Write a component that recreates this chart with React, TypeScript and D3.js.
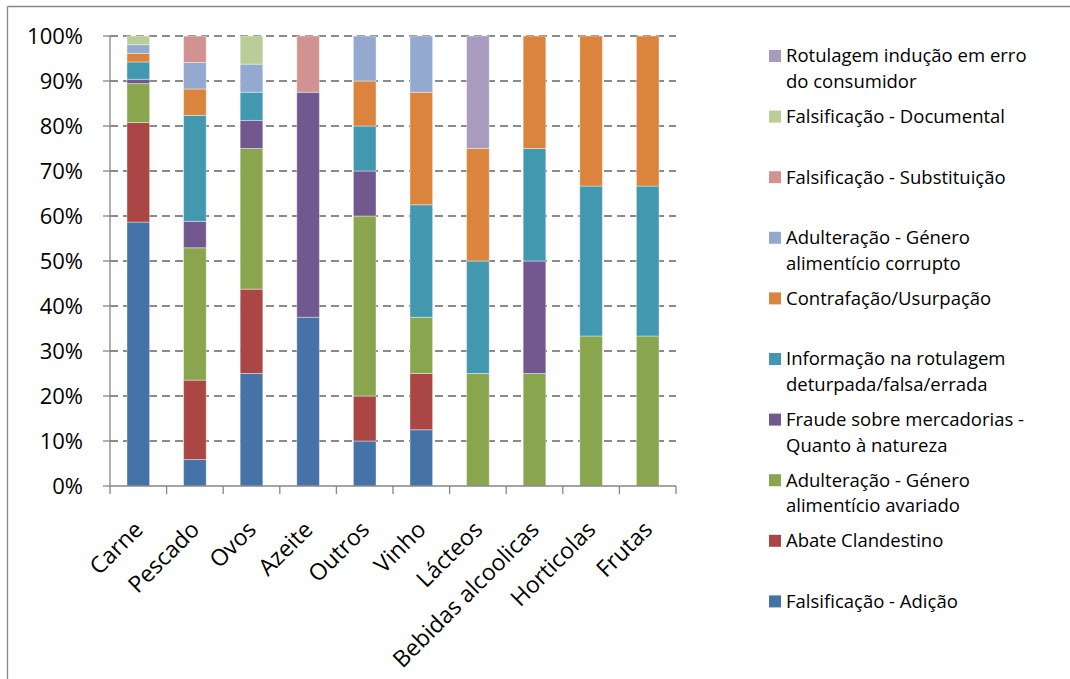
import React from "react";
import * as d3 from "d3";

const categories = ["Carne", "Pescado", "Ovos", "Azeite", "Outros", "Vinho", "Lácteos", "Bebidas alcoolicas", "Horticolas", "Frutas"];

const seriesNames = [
  "Falsificação - Adição",
  "Abate Clandestino",
  "Adulteração - Género alimentício avariado",
  "Fraude sobre mercadorias - Quanto à natureza",
  "Informação na rotulagem deturpada/falsa/errada",
  "Contrafação/Usurpação",
  "Adulteração - Género alimentício corrupto",
  "Falsificação - Substituição",
  "Falsificação - Documental",
  "Rotulagem indução em erro do consumidor",
];

const legendLines = [
  ["Falsificação - Adição"],
  ["Abate Clandestino"],
  ["Adulteração - Género", "alimentício avariado"],
  ["Fraude sobre mercadorias -", "Quanto à natureza"],
  ["Informação na rotulagem", "deturpada/falsa/errada"],
  ["Contrafação/Usurpação"],
  ["Adulteração - Género", "alimentício corrupto"],
  ["Falsificação - Substituição"],
  ["Falsificação - Documental"],
  ["Rotulagem indução em erro", "do consumidor"],
];

const colors = ["#4572A7", "#AA4643", "#89A54E", "#71588F", "#4198AF", "#DB843D", "#93A9CF", "#D19392", "#B9CD96", "#A99BBD"];

const adicao = [58.65, 5.88, 25, 37.5, 10, 12.5, 0, 0, 0, 0];
const abate = [22.12, 17.65, 18.75, 0, 10, 12.5, 0, 0, 0, 0];
const avariado = [8.65, 29.41, 31.25, 0, 40, 12.5, 25, 25, 33.33, 33.33];
const fraude = [0.96, 5.88, 6.25, 50, 10, 0, 0, 25, 0, 0];
const informacao = [3.85, 23.53, 6.25, 0, 10, 25, 25, 25, 33.33, 33.33];
const contrafacao = [1.92, 5.88, 0, 0, 10, 25, 25, 25, 33.34, 33.34];
const corrupto = [1.92, 5.88, 6.25, 0, 10, 12.5, 0, 0, 0, 0];
const substituicao = [0, 5.88, 0, 12.5, 0, 0, 0, 0, 0, 0];
const documental = [1.93, 0, 6.25, 0, 0, 0, 0, 0, 0, 0];
const rotulagem = [0, 0, 0, 0, 0, 0, 25, 0, 0, 0];

const seriesValues = [adicao, abate, avariado, fraude, informacao, contrafacao, corrupto, substituicao, documental, rotulagem];

const yTicks = [0, 10, 20, 30, 40, 50, 60, 70, 80, 90, 100];

const FONT = "'Open Sans', sans-serif";

export default function App() {
  const W = 1070, H = 679;
  const x0 = 110, x1 = 676, yTop = 36, yBot = 486;
  const x = d3.scaleBand<string>().domain(categories).range([x0, x1]).paddingInner(0.6).paddingOuter(0.3);
  const y = d3.scaleLinear().domain([0, 100]).range([yBot, yTop]);

  const table = categories.map((c, i) => {
    const row: any = { cat: c };
    seriesNames.forEach((s, j) => (row[s] = seriesValues[j][i]));
    return row;
  });
  const stacked = d3.stack<any>().keys(seriesNames)(table);

  const step = x.step();
  const boundaries = d3.range(categories.length + 1).map((i) => x0 + i * step);

  const legendX = 769;
  const legendY0 = 56;
  const legendStep = 60.6;

  return (
    <svg width={W} height={H} style={{ position: "absolute", left: 0, top: 0, background: "#fff" }} fontFamily={FONT}>
      <rect x={0} y={0} width={W} height={H} fill="#fff" />
      <line x1={7.5} x2={7.5} y1={6.5} y2={H} stroke="#868686" strokeWidth={1.3} />
      <line x1={7.5} x2={W} y1={6.5} y2={6.5} stroke="#868686" strokeWidth={1.3} />

      {yTicks.filter((t) => t > 0).map((t) => (
        <line key={t} x1={x0} x2={x1} y1={y(t)} y2={y(t)} stroke="#8a8a8a" strokeWidth={2} strokeDasharray="8,5" />
      ))}

      {stacked.map((s, j) => (
        <g key={s.key} fill={colors[j]}>
          {s.map((d, i) =>
            d[1] - d[0] > 0 ? (
              <rect
                key={i}
                x={x(categories[i])!}
                width={x.bandwidth()}
                y={y(d[1])}
                height={y(d[0]) - y(d[1])}
                stroke="#fff"
                strokeOpacity={0.4}
                strokeWidth={1}
              />
            ) : null
          )}
        </g>
      ))}

      <line x1={x0} x2={x0} y1={yTop} y2={yBot} stroke="#868686" strokeWidth={1.3} />
      <line x1={x0} x2={x1} y1={yBot} y2={yBot} stroke="#868686" strokeWidth={1.3} />
      {yTicks.map((t) => (
        <g key={t}>
          <line x1={x0 - 7} x2={x0} y1={y(t)} y2={y(t)} stroke="#868686" strokeWidth={1.3} />
          <text x={83} y={y(t)} dy="0.35em" textAnchor="end" fontSize={22} fill="#000">
            {t}%
          </text>
        </g>
      ))}
      {boundaries.map((b, i) => (
        <line key={i} x1={b} x2={b} y1={yBot} y2={yBot + 8} stroke="#868686" strokeWidth={1.3} />
      ))}
      {categories.map((c) => {
        const cx = x(c)! + x.bandwidth() / 2;
        return (
          <text
            key={c}
            transform={`translate(${cx + 6},${yBot + 45}) rotate(-45)`}
            textAnchor="end"
            fontSize={23}
            fill="#000"
          >
            {c}
          </text>
        );
      })}

      {seriesNames.map((s, j) => {
        const idx = seriesNames.length - 1 - j;
        const name = seriesNames[idx];
        const ly = legendY0 + j * legendStep;
        return (
          <g key={name}>
            <rect x={legendX} y={ly - 6} width={12} height={12} fill={colors[idx]} />
            {legendLines[idx].map((ln, k) => (
              <text key={k} x={786} y={ly + k * 25.7} dy="0.35em" fontSize={18.5} fill="#000">
                {ln}
              </text>
            ))}
          </g>
        );
      })}
    </svg>
  );
}
